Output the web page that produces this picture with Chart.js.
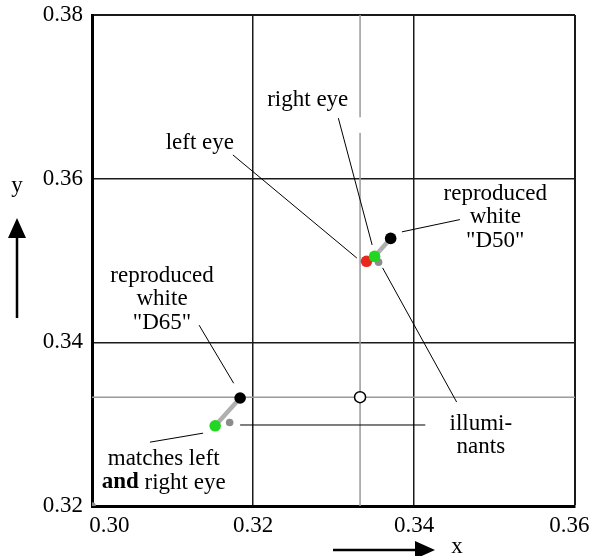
<!DOCTYPE html>
<html>
<head>
<meta charset="utf-8">
<script src="https://cdn.jsdelivr.net/npm/chart.js@4.4.1/dist/chart.umd.min.js"></script>
<style>
  html, body { margin: 0; padding: 0; background: #fff; }
  #wrap { width: 591px; height: 556px; }
</style>
</head>
<body>
<div id="wrap"><canvas id="chart"></canvas></div>
<script>
// --- data (chromaticity x, y) ---
const xTicks = [0.30, 0.32, 0.34, 0.36];
const yTicks = [0.32, 0.34, 0.36, 0.38];

// equal-energy white E
const eePoint = [{ x: 0.3333, y: 0.3333 }];

// reproduced whites "D50", "D65" (black)
const reproducedWhite = [{ x: 0.3371, y: 0.3527 }, { x: 0.3184, y: 0.3332 }];
// left eye match for D50 (red)
const leftEye = [{ x: 0.3341, y: 0.3499 }];
// right eye match for D50, both-eye match for D65 (green)
const rightEye = [{ x: 0.3351, y: 0.3505 }, { x: 0.3153, y: 0.3298 }];
// illuminants (grey)
const illuminants = [{ x: 0.3356, y: 0.3498 }, { x: 0.3171, y: 0.3302 }, { x: 0.30, y: 0.32 }];

// --- annotations in data units ---
const notes = [
  { lines: ["right eye"], x: 0.3268, y: 0.3696 },
  { lines: ["left eye"], x: 0.3134, y: 0.3644 },
  { lines: ["reproduced", "white", "\"D50\""], x: 0.3501, y: 0.3553 },
  { lines: ["reproduced", "white", "\"D65\""], x: 0.3087, y: 0.3453 },
  { lines: ["illumi-", "nants"], x: 0.3483, y: 0.3286 },
];
const leaders = [
  [0.3306, 0.3674, 0.3348, 0.3519],   // right eye
  [0.3175, 0.3629, 0.3329, 0.3503],   // left eye
  [0.3385, 0.3535, 0.3457, 0.3550],   // D50
  [0.3133, 0.3421, 0.3176, 0.3350],   // D65
  [0.3361, 0.3491, 0.3453, 0.3327],   // illuminants (D50)
  [0.3184, 0.3299, 0.3414, 0.3299],   // illuminants (D65)
  [0.3072, 0.3278, 0.3138, 0.3289],   // matches
];

const FONT = "Liberation Serif, Times New Roman, serif";
const SP = "\u2002"; // en space, nudges the outer x labels inward

function near(a, b) { return Math.abs(a - b) < 1e-6; }

const overlay = {
  id: "overlay",
  beforeDatasetsDraw(chart) {
    const { ctx, chartArea: a } = chart;
    const xs = chart.scales.x, ys = chart.scales.y;
    const X = v => xs.getPixelForValue(v), Y = v => ys.getPixelForValue(v);
    ctx.save();
    // grey lines through E
    ctx.strokeStyle = "#9a9a9a";
    ctx.lineWidth = 1.5;
    ctx.beginPath();
    ctx.moveTo(X(eePoint[0].x), a.top);
    ctx.lineTo(X(eePoint[0].x), a.bottom);
    ctx.moveTo(a.left, Y(eePoint[0].y));
    ctx.lineTo(a.right, Y(eePoint[0].y));
    ctx.stroke();
    // white gap near "right eye"
    ctx.fillStyle = "#fff";
    ctx.fillRect(X(eePoint[0].x) - 3, Y(0.3675), 6, Y(0.3656) - Y(0.3675));
    // leader lines
    ctx.strokeStyle = "#000";
    ctx.lineWidth = 1;
    ctx.beginPath();
    leaders.forEach(l => {
      ctx.moveTo(X(l[0]), Y(l[1]));
      ctx.lineTo(X(l[2]), Y(l[3]));
    });
    ctx.stroke();
    // labels
    ctx.fillStyle = "#000";
    ctx.font = "23px " + FONT;
    ctx.textAlign = "center";
    ctx.textBaseline = "middle";
    const lh = 23.5;
    notes.forEach(n => {
      const cy = Y(n.y), cx = X(n.x);
      n.lines.forEach((t, i) => {
        ctx.fillText(t, cx, cy + (i - (n.lines.length - 1) / 2) * lh);
      });
    });
    // "matches left / **and** right eye"
    const mx = X(0.3089), my = Y(0.3243);
    ctx.fillText("matches left", mx, my - lh / 2);
    ctx.font = "bold 23px " + FONT;
    const w1 = ctx.measureText("and").width;
    ctx.font = "23px " + FONT;
    const w2 = ctx.measureText(" right eye").width;
    ctx.textAlign = "left";
    const sx = mx - (w1 + w2) / 2;
    ctx.font = "bold 23px " + FONT;
    ctx.fillText("and", sx, my + lh / 2);
    ctx.font = "23px " + FONT;
    ctx.fillText(" right eye", sx + w1, my + lh / 2);

    // axis arrows (outside the plot)
    ctx.lineWidth = 2.5;
    ctx.beginPath();
    ctx.moveTo(17, 318); ctx.lineTo(17, 232);
    ctx.moveTo(333, 550); ctx.lineTo(420, 550);
    ctx.stroke();
    ctx.beginPath();
    ctx.moveTo(17, 218); ctx.lineTo(8, 238); ctx.lineTo(26, 238); ctx.closePath();
    ctx.moveTo(435, 550); ctx.lineTo(415, 541); ctx.lineTo(415, 559); ctx.closePath();
    ctx.fill();
    ctx.textAlign = "center";
    ctx.fillText("y", 17, 186);
    ctx.fillText("x", 457, 547);
    ctx.restore();
  }
};

const connectors = [
  [reproducedWhite[0], rightEye[0]],
  [reproducedWhite[1], rightEye[1]],
];

const datasets = [
  ...connectors.map(pair => ({
    type: "line", data: pair, borderColor: "#b0b0b0", borderWidth: 4.5,
    pointRadius: 0, order: 10
  })),
  { data: illuminants, backgroundColor: "#8c8c8c", borderWidth: 0, pointRadius: 3.8, order: 6 },
  { data: leftEye, backgroundColor: "#e8281e", borderWidth: 0, pointRadius: 5.8, order: 5 },
  { data: rightEye, backgroundColor: "#22d622", borderWidth: 0, pointRadius: 5.8, order: 4 },
  { data: reproducedWhite, backgroundColor: "#000", borderWidth: 0, pointRadius: 5.8, order: 3 },
  { data: eePoint, backgroundColor: "#fff", borderColor: "#000", borderWidth: 1.5, pointRadius: 5.5, order: 2 },
];

const gridWidth = (edge) => c => (near(c.tick.value, edge) ? 2 : 1.5);

new Chart(document.getElementById("chart"), {
  type: "scatter",
  data: { datasets },
  plugins: [overlay],
  options: {
    responsive: true,
    maintainAspectRatio: false,
    animation: false,
    layout: { padding: { left: 0, top: 15, right: 16, bottom: 0 } },
    plugins: { legend: { display: false }, tooltip: { enabled: false } },
    scales: {
      x: {
        type: "linear", min: xTicks[0], max: xTicks[xTicks.length - 1],
        afterFit: s => { s.height = 50; s.paddingLeft = 0; s.paddingRight = 0; },
        afterBuildTicks: s => { s.ticks = xTicks.map(v => ({ value: v })); },
        ticks: {
          padding: 6, color: "#000", font: { family: FONT, size: 23 },
          callback: (v, i, t) => {
            const s = v.toFixed(2);
            if (i === 0) return SP + SP + SP + s;
            if (i === t.length - 1) return s + SP;
            return s;
          }
        },
        grid: { color: "#1a1a1a", lineWidth: gridWidth(0.36), drawTicks: false },
        border: { color: "#000", width: 3 }
      },
      y: {
        type: "linear", min: yTicks[0], max: yTicks[yTicks.length - 1],
        afterFit: s => { s.width = 92; s.paddingTop = 0; s.paddingBottom = 0; },
        afterBuildTicks: s => { s.ticks = yTicks.map(v => ({ value: v })); },
        ticks: { padding: 9, color: "#000", font: { family: FONT, size: 23 },
                 callback: v => v.toFixed(2) },
        grid: { color: "#1a1a1a", lineWidth: gridWidth(0.38), drawTicks: false },
        border: { color: "#000", width: 3 }
      }
    }
  }
});
</script>
</body>
</html>
